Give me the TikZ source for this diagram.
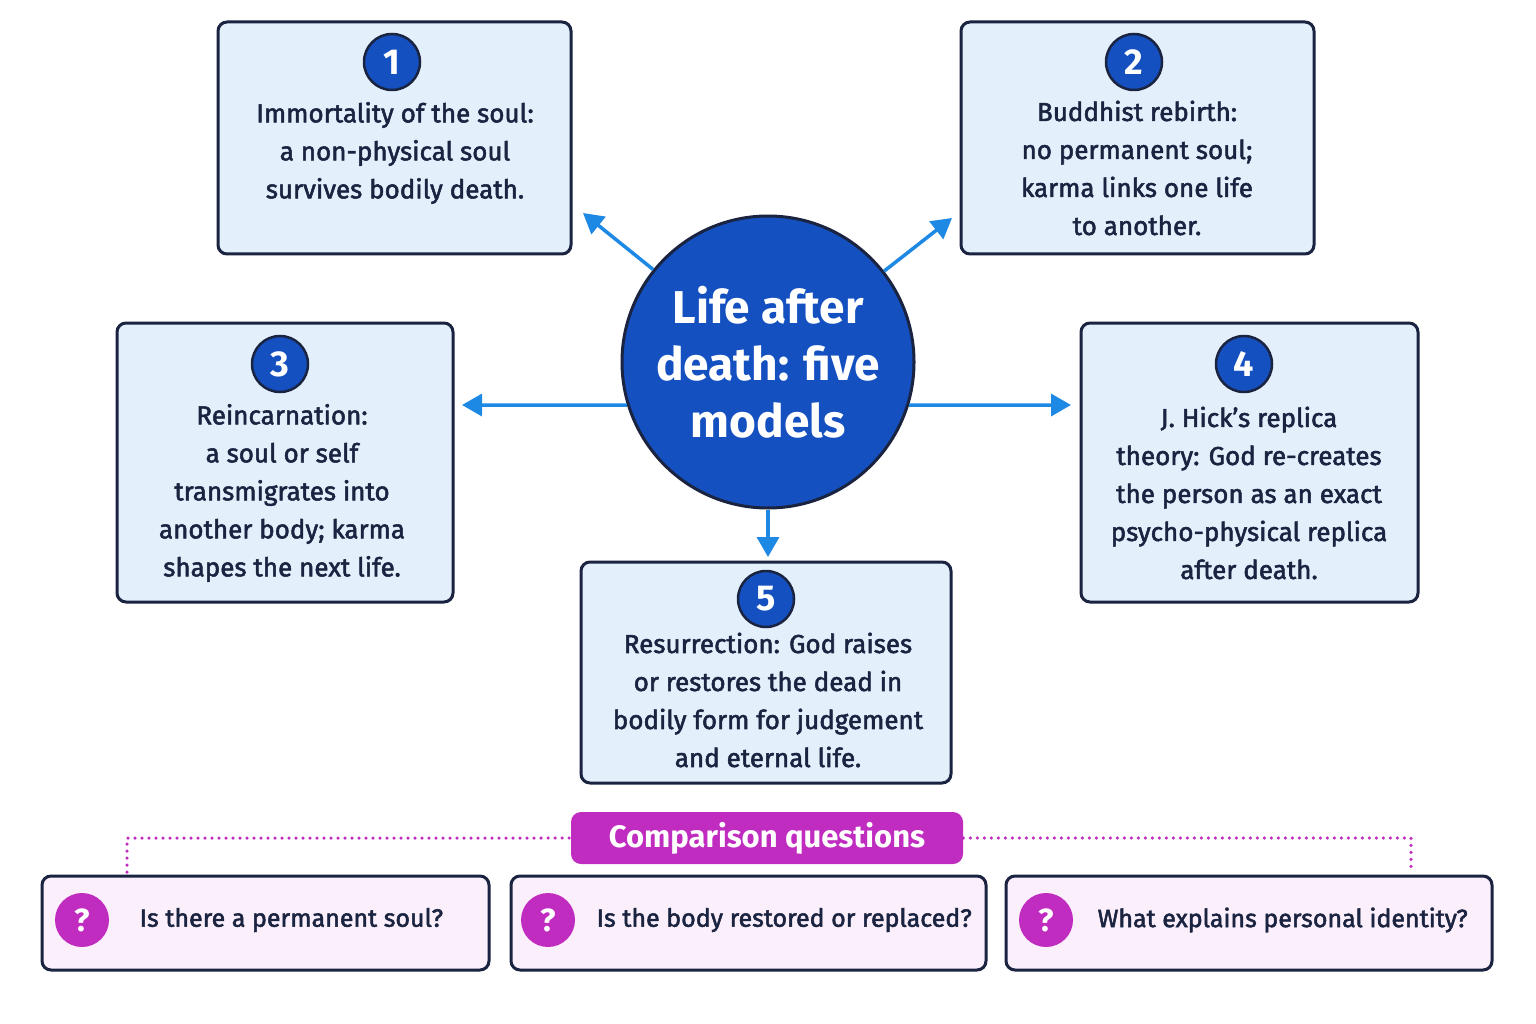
\documentclass[tikz,border=0pt]{standalone}
\usepackage{fontspec}
\setmainfont{Fira Sans}
\usetikzlibrary{arrows.meta}
\definecolor{boxfill}{HTML}{E3F0FC}
\definecolor{boxline}{HTML}{1A2340}
\definecolor{hubblue}{HTML}{1450C0}
\definecolor{arrowblue}{HTML}{1E88E5}
\definecolor{qmag}{HTML}{C02BC0}
\definecolor{qfill}{HTML}{FBEFFB}
\tikzset{every picture/.style={line width=0.75pt}}
\tikzset{
  model/.style={draw=boxline,fill=boxfill,line width=3pt,rounded corners=9pt},
  badge/.style={circle,draw=boxline,fill=hubblue,line width=2.5pt,minimum size=56pt,inner sep=0pt,text=white,font=\fontsize{36}{36}\selectfont\bfseries},
  modeltext/.style={align=center,text=boxline,font=\fontsize{26}{38}\selectfont\addfontfeature{FakeBold=2}},
  link/.style={draw=arrowblue,line width=3.5pt,-{Triangle[length=20pt,width=22pt]}},
  qbox/.style={draw=boxline,fill=qfill,line width=3pt,rounded corners=9pt},
  qmark/.style={circle,fill=qmag,minimum size=54pt,inner sep=0pt,text=white,font=\fontsize{32}{32}\selectfont\bfseries},
  qtext/.style={anchor=west,text=boxline,font=\fontsize{25}{30}\selectfont\addfontfeature{FakeBold=2}},
  qdots/.style={draw=qmag,line width=3.5pt,line cap=round,dash pattern=on 0pt off 7pt},
}
\begin{document}
\begin{tikzpicture}[x=1pt,y=1pt,yscale=-1,xscale=1]
\useasboundingbox[fill=white] (0,0) rectangle (1536,1024);

% model boxes
\draw[model] (218,22) rectangle (571,254);
\draw[model] (961,22) rectangle (1314,254);
\draw[model] (117,323) rectangle (453,602);
\draw[model] (1081,323) rectangle (1418,602);
\draw[model] (581,562) rectangle (951,783);

% number badges
\node[badge] (n1) at (392,62) {1};
\node[badge] (n2) at (1134,62) {2};
\node[badge] (n3) at (280,364) {3};
\node[badge] (n4) at (1244,364) {4};
\node[badge] (n5) at (766,599) {5};

% texts
\node[modeltext] (t1) at (395,153) {Immortality of the soul:\\a non-physical soul\\survives bodily death.};
\node[modeltext] (t2) at (1137,168) {Buddhist rebirth:\\no permanent soul;\\karma links one life\\to another.};
\node[modeltext] (t3) at (282,493) {Reincarnation:\\a soul or self\\transmigrates into\\another body; karma\\shapes the next life.};
\node[modeltext] (t4) at (1249,493) {J. Hick's replica\\theory: God re-creates\\the person as an exact\\psycho-physical replica\\after death.};
\node[modeltext] (t5) at (768,700) {Resurrection: God raises\\or restores the dead in\\bodily form for judgement\\and eternal life.};

% hub
\node[circle,draw=boxline,fill=hubblue,line width=3pt,minimum size=292pt,inner sep=0pt,align=center,text=white,
  font=\fontsize{46}{57}\selectfont\bfseries] (hub) at (768,362) {Life after\\death: five\\models};

% arrows
\coordinate (e1) at (583,213);
\coordinate (e2) at (952,218);
\coordinate (e3) at (462,405);
\coordinate (e4) at (1071,405);
\coordinate (e5) at (768,557);
\draw[link] (hub) -- (e1);
\draw[link] (hub) -- (e2);
\draw[link] (hub.197) -- (e3);
\draw[link] (hub.343) -- (e4);
\draw[link] (hub) -- (e5);

% comparison questions
\coordinate (d1) at (127,872);
\coordinate (d2) at (1411,872);
\node[fill=qmag,rounded corners=10pt,minimum width=392pt,minimum height=52pt,text=white,
  font=\fontsize{31}{31}\selectfont\bfseries] (cq) at (767,838) {Comparison questions};
\draw[qdots] (d1) -- (d1 |- cq) -- (cq.west);
\draw[qdots] (cq.east) -- (d2 |- cq) -- (d2);

\draw[qbox] (42,876) rectangle (489,970);
\draw[qbox] (511,876) rectangle (986,970);
\draw[qbox] (1006,876) rectangle (1492,970);
\node[qmark] (q1) at (82,920) {?};
\node[qmark] (q2) at (548,920) {?};
\node[qmark] (q3) at (1046,920) {?};
\node[qtext] (qt1) at (136,920) {Is there a permanent soul?};
\node[qtext] (qt2) at (593,920) {Is the body restored or replaced?};
\node[qtext] (qt3) at (1094,920) {What explains personal identity?};
\end{tikzpicture}
\end{document}
